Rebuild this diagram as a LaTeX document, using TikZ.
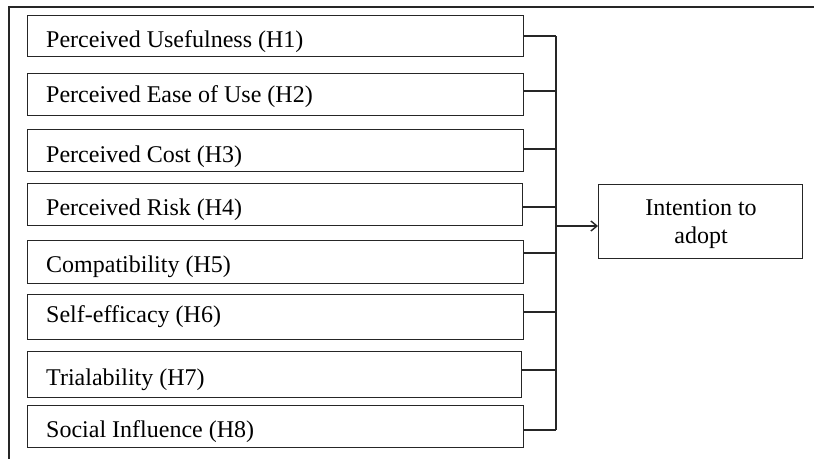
\documentclass[tikz,border=0pt]{standalone}
\usepackage{fontspec}
\setmainfont{Liberation Serif}
\usetikzlibrary{arrows.meta}
\begin{document}
\begin{tikzpicture}[x=1pt,y=-1pt,
  ln/.style={line width=1.3pt,draw=black!85},
  factorbox/.style={ln,inner sep=0pt,anchor=north west},
  lbl/.style={inner sep=0pt,anchor=base west,font=\fontsize{24}{28}\selectfont},
  clbl/.style={inner sep=0pt,anchor=base,font=\fontsize{24}{28}\selectfont},
  conn/.style={ln}]
\useasboundingbox (0,0) rectangle (814,458);
\fill[white] (0,0) rectangle (814,458);
% outer frame
\draw[ln] (9,460) -- (9,7) -- (816,7);
% factor boxes
\node[factorbox,minimum width=496pt,minimum height=41pt] (b1) at (27,15) {};
\node[factorbox,minimum width=496pt,minimum height=42pt] (b2) at (27,73) {};
\node[factorbox,minimum width=496pt,minimum height=42pt] (b3) at (27,129) {};
\node[factorbox,minimum width=495pt,minimum height=42pt] (b4) at (27,183) {};
\node[factorbox,minimum width=496pt,minimum height=43pt] (b5) at (27,240) {};
\node[factorbox,minimum width=496pt,minimum height=45pt] (b6) at (27,294) {};
\node[factorbox,minimum width=494pt,minimum height=46pt] (b7) at (27,351) {};
\node[factorbox,minimum width=496pt,minimum height=42pt] (b8) at (27,405) {};
% labels
\node[lbl] (t1) at (46,47) {Perceived Usefulness (H1)};
\node[lbl] (t2) at (46,102) {Perceived Ease of Use (H2)};
\node[lbl] (t3) at (46,162) {Perceived Cost (H3)};
\node[lbl] (t4) at (46,215) {Perceived Risk (H4)};
\node[lbl] (t5) at (46,272) {Compatibility (H5)};
\node[lbl] (t6) at (46,322) {Self-efficacy (H6)};
\node[lbl] (t7) at (46,385) {Trialability (H7)};
\node[lbl] (t8) at (46,437) {Social Influence (H8)};
% outcome box
\node[ln,inner sep=0pt,minimum width=204pt,minimum height=74pt,anchor=north west] (out) at (598,184) {};
\node[clbl] (o1) at (701,215) {Intention to};
\node[clbl] (o2) at (701,243) {adopt};
% junction coordinates
\coordinate (j1) at (556,36);
\coordinate (j2) at (556,91);
\coordinate (j3) at (556,149);
\coordinate (j4) at (556,207);
\coordinate (j5) at (556,253);
\coordinate (j6) at (556,312);
\coordinate (j7) at (556,370);
\coordinate (j8) at (556,430);
\coordinate (ja) at (556,226);
% connectors
\foreach \i in {1,...,8}{
  \draw[conn] (b\i.east |- j\i) -- (j\i);
}
\draw[conn] (j1) -- (j8);
\draw[conn,-{Straight Barb[length=6pt,width=10pt,line width=1.4pt]}] (ja) -- (ja -| out.west);
\end{tikzpicture}
\end{document}
